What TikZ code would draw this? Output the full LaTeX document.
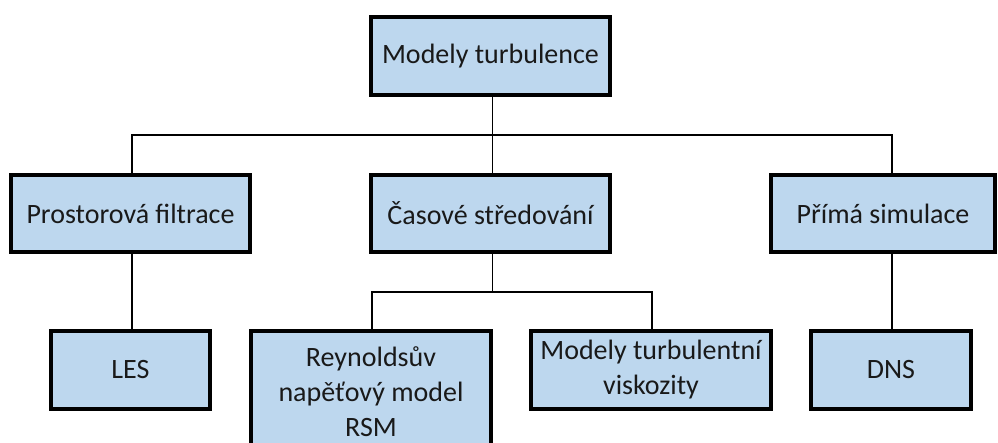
\documentclass[tikz,border=0pt]{standalone}
\usepackage{fontspec}
\setmainfont{Carlito}
\definecolor{boxblue}{HTML}{BDD7EE}
\tikzset{
  box/.style={draw=black, line width=4.2pt, fill=boxblue, text=black!90,
    inner sep=0pt, align=center, font=\fontsize{28}{35}\selectfont},
  conn/.style={draw=black, line width=1.8pt}
}
\begin{document}
\begin{tikzpicture}[x=1pt,y=-1pt]
\useasboundingbox (0,0) rectangle (998,443);
\clip (0,0) rectangle (998,443);
% level 0
\node[box, minimum width=239pt, minimum height=78pt] (top) at (490.5,56) {Modely turbulence};
% level 1
\node[box, minimum width=239pt, minimum height=77pt] (left) at (130.5,213.5) {Prostorová filtrace};
\node[box, minimum width=239pt, minimum height=77pt] (mid) at (490.5,213.5) {Časové středování};
\node[box, minimum width=224pt, minimum height=77pt] (right) at (883,213.5) {Přímá simulace};
% level 2
\node[box, minimum width=159pt, minimum height=78pt] (les) at (130.5,370) {LES};
\node[box, minimum width=240pt, minimum height=122pt] (rsm) at (371,392) {Reynoldsův\\napěťový model\\RSM};
\node[box, minimum width=240pt, minimum height=78pt] (mtv) at (651,370) {Modely turbulentní\\viskozity};
\node[box, minimum width=160pt, minimum height=78pt] (dns) at (891,370) {DNS};
% junction coordinates
\coordinate (cL) at (132,135);
\coordinate (cM) at (492.5,135);
\coordinate (cR) at (892,135);
\coordinate (cM2) at (492.5,292);
\coordinate (cA) at (372,292);
\coordinate (cB) at (652,292);
% connectors
\draw[conn] (top.south -| cM) -- (cM);
\draw[conn] (left.north -| cL) |- (cR) -- (right.north -| cR);
\draw[conn] (cM) -- (mid.north -| cM);
\draw[conn] (left.south -| cL) -- (les.north -| cL);
\draw[conn] (right.south -| cR) -- (dns.north -| cR);
\draw[conn] (mid.south -| cM2) -- (cM2);
\draw[conn] (rsm.north -| cA) |- (cB) -- (mtv.north -| cB);
\end{tikzpicture}
\end{document}
